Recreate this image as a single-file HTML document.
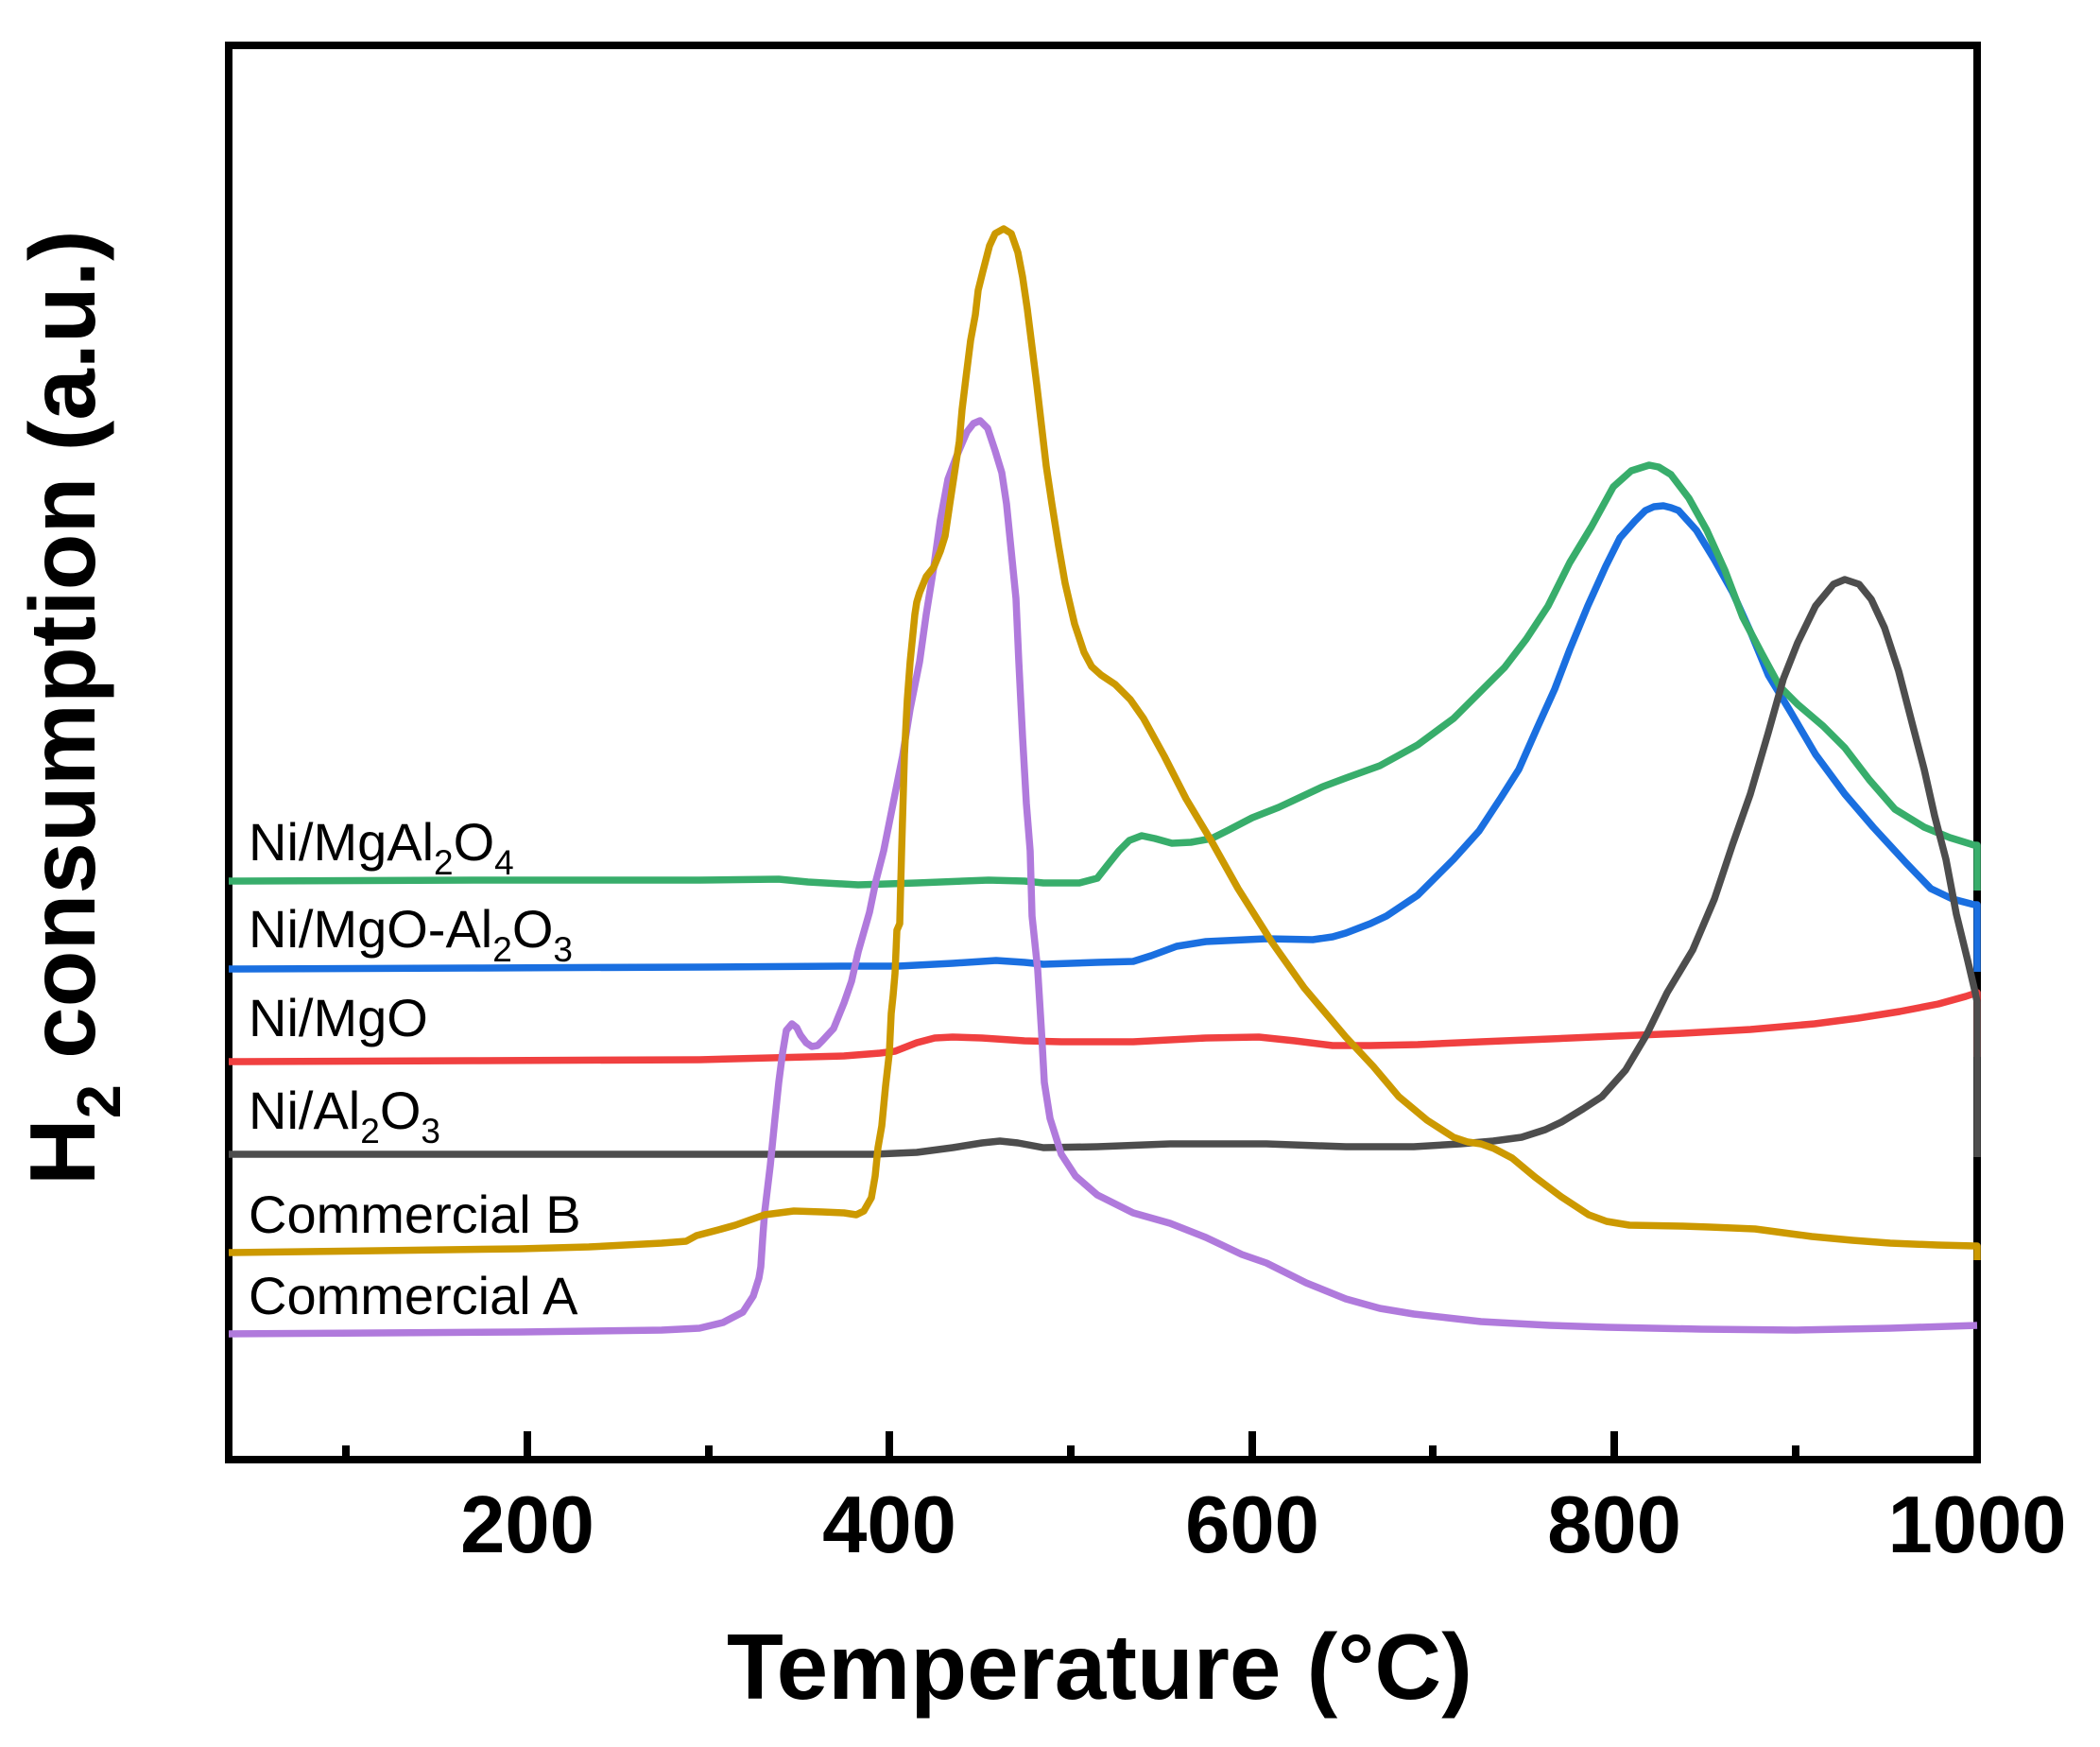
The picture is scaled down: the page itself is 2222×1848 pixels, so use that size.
<!DOCTYPE html>
<html>
<head>
<meta charset="utf-8">
<style>
  html, body { margin: 0; padding: 0; background: #ffffff; }
  svg { display: block; }
  text { font-family: "Liberation Sans", Arial, sans-serif; fill: #000; }
</style>
</head>
<body>
<svg width="2222" height="1848" viewBox="0 0 2222 1848" xmlns="http://www.w3.org/2000/svg">
  <rect x="0" y="0" width="2222" height="1848" fill="#ffffff"/>

  <!-- frame -->
  <rect x="242" y="48" width="1850" height="1496" fill="none" stroke="#000" stroke-width="8"/>

  <!-- ticks -->
  <g stroke="#000" stroke-width="8" stroke-linecap="butt">
    <line x1="558" y1="1544" x2="558" y2="1514"/>
    <line x1="941" y1="1544" x2="941" y2="1514"/>
    <line x1="1325" y1="1544" x2="1325" y2="1514"/>
    <line x1="1708" y1="1544" x2="1708" y2="1514"/>
    <line x1="366" y1="1544" x2="366" y2="1529"/>
    <line x1="750" y1="1544" x2="750" y2="1529"/>
    <line x1="1133" y1="1544" x2="1133" y2="1529"/>
    <line x1="1516" y1="1544" x2="1516" y2="1529"/>
    <line x1="1900" y1="1544" x2="1900" y2="1529"/>
  </g>

  <!-- tick labels -->
  <g font-size="85" font-weight="bold" text-anchor="middle">
    <text x="558" y="1642">200</text>
    <text x="941" y="1642">400</text>
    <text x="1325" y="1642">600</text>
    <text x="1708" y="1642">800</text>
    <text x="2092" y="1642">1000</text>
  </g>

  <!-- axis titles -->
  <text x="769" y="1797" font-size="98" font-weight="bold">Temperature (°C)</text>
  <text transform="translate(100,1254) rotate(-90)" font-size="98" font-weight="bold">H<tspan font-size="65" dy="27">2</tspan><tspan dy="-27"> consumption (a.u.)</tspan></text>

  <!-- series labels -->
  <g font-size="56">
    <text x="263" y="910">Ni/MgAl<tspan font-size="37" dy="15">2</tspan><tspan dy="-15">O</tspan><tspan font-size="37" dy="15">4</tspan></text>
    <text x="263" y="1002">Ni/MgO-Al<tspan font-size="37" dy="15">2</tspan><tspan dy="-15">O</tspan><tspan font-size="37" dy="15">3</tspan></text>
    <text x="263" y="1096">Ni/MgO</text>
    <text x="263" y="1194">Ni/Al<tspan font-size="37" dy="15">2</tspan><tspan dy="-15">O</tspan><tspan font-size="37" dy="15">3</tspan></text>
    <text x="263" y="1304">Commercial B</text>
    <text x="263" y="1390">Commercial A</text>
  </g>

  <g fill="none" stroke-width="7.5" stroke-linejoin="round" stroke-linecap="butt">
    <!-- Blue: Ni/MgO-Al2O3 -->
    <polyline stroke="#1a6fe0" points="242,1025 500,1024 740,1023 893,1022 950,1022 1008,1019 1054,1016 1084,1018 1104,1020 1161,1018 1199,1017 1218,1011 1245,1001 1276,996 1340,993 1389,994 1410,991 1424,987 1450,977 1467,969 1500,947 1538,909 1565,879 1588,844 1607,814 1626,771 1645,729 1661,687 1680,641 1699,599 1714,569 1722,560 1730,551 1741,540 1750,536 1760,535 1768,537 1776,540 1795,561 1814,592 1833,626 1852,668 1871,714 1894,752 1921,798 1952,840 1982,875 2017,913 2043,940 2066,951 2089,957 2092,957 2092,1028"/>

    <!-- Green: Ni/MgAl2O4 -->
    <polyline stroke="#38ad6b" points="242,932 500,931 740,931 824,930 855,933 908,936 970,934 1046,931 1084,932 1104,934 1142,934 1161,929 1172,915 1184,900 1195,889 1208,884 1222,887 1240,892 1260,891 1282,887 1300,878 1325,865 1353,854 1400,832 1424,823 1460,810 1500,788 1538,760 1569,729 1592,706 1615,676 1638,641 1661,595 1684,557 1707,515 1726,498 1745,492 1755,494 1768,502 1787,527 1806,561 1825,603 1844,653 1864,691 1883,726 1902,745 1929,768 1952,791 1978,825 2005,856 2036,875 2063,886 2089,894 2092,894 2092,942"/>

    <!-- Red: Ni/MgO -->
    <polyline stroke="#f04040" points="242,1123 500,1122 740,1121 893,1117 931,1114 947,1112 970,1103 989,1098 1008,1097 1039,1098 1084,1101 1123,1102 1199,1102 1276,1098 1332,1097 1370,1101 1410,1106 1450,1106 1500,1105 1567,1102 1640,1099 1709,1096 1781,1093 1852,1089 1920,1083 1966,1077 2010,1070 2051,1062 2080,1054 2092,1050 2092,1118"/>

    <!-- Gray: Ni/Al2O3 -->
    <polyline stroke="#4d4d4d" points="242,1221 740,1221 924,1221 970,1219 1008,1214 1039,1209 1058,1207 1077,1209 1104,1214 1161,1213 1238,1210 1340,1210 1424,1213 1496,1213 1545,1210 1580,1207 1610,1203 1635,1195 1652,1187 1675,1173 1695,1160 1720,1132 1742,1095 1764,1050 1791,1005 1814,951 1833,894 1852,840 1871,775 1887,718 1902,680 1921,641 1940,618 1952,613 1967,618 1980,634 1994,664 2009,710 2024,768 2036,814 2047,863 2059,909 2070,967 2082,1016 2090,1050 2092,1060 2092,1224"/>

    <!-- Purple: Commercial A -->
    <polyline stroke="#b07adc" points="242,1411 400,1410 550,1409 700,1407 740,1405 765,1399 786,1388 797,1371 803,1352 805,1340 807,1310 809,1283 815,1233 820,1183 824,1145 828,1114 832,1090 838,1083 843,1087 847,1095 853,1103 859,1107 865,1106 870,1101 882,1088 893,1061 901,1038 908,1007 920,965 927,931 935,900 945,850 955,800 963,750 973,700 980,650 988,600 995,550 1003,507 1012,483 1023,457 1030,448 1037,445 1045,453 1053,477 1060,500 1065,533 1070,583 1075,633 1078,700 1082,780 1086,850 1090,900 1092,969 1098,1026 1102,1091 1105,1145 1111,1183 1123,1221 1138,1244 1161,1264 1199,1283 1238,1294 1276,1309 1314,1327 1340,1336 1382,1357 1424,1374 1460,1384 1496,1390 1567,1398 1640,1402 1700,1404 1800,1406 1900,1407 2000,1405 2092,1402"/>

    <!-- Gold: Commercial B -->
    <polyline stroke="#cc9900" points="242,1325 400,1323 550,1321 623,1319 700,1315 726,1313 737,1307 760,1301 778,1296 809,1285 840,1281 870,1282 893,1283 906,1285 914,1281 922,1267 926,1244 929,1214 933,1191 937,1149 941,1114 943,1072 945,1053 947,1030 949,984 952,977 953,938 954,900 957,798 960,740 963,700 968,650 970,637 973,627 980,610 988,600 995,583 1000,567 1005,533 1010,500 1015,467 1018,433 1022,400 1027,360 1032,333 1035,307 1040,287 1047,260 1053,247 1062,242 1070,247 1077,267 1082,293 1087,327 1092,367 1097,407 1102,450 1107,493 1113,533 1120,577 1127,617 1137,660 1147,690 1155,705 1165,714 1180,724 1196,740 1210,760 1232,800 1255,845 1282,890 1310,940 1346,997 1380,1045 1424,1097 1453,1128 1480,1160 1510,1185 1538,1203 1553,1208 1567,1210 1581,1215 1600,1225 1624,1245 1652,1266 1681,1285 1700,1292 1724,1296 1780,1297 1809,1298 1857,1300 1917,1308 1960,1312 2000,1315 2050,1317 2090,1318 2092,1318 2092,1333"/>
  </g>
</svg>
</body>
</html>
